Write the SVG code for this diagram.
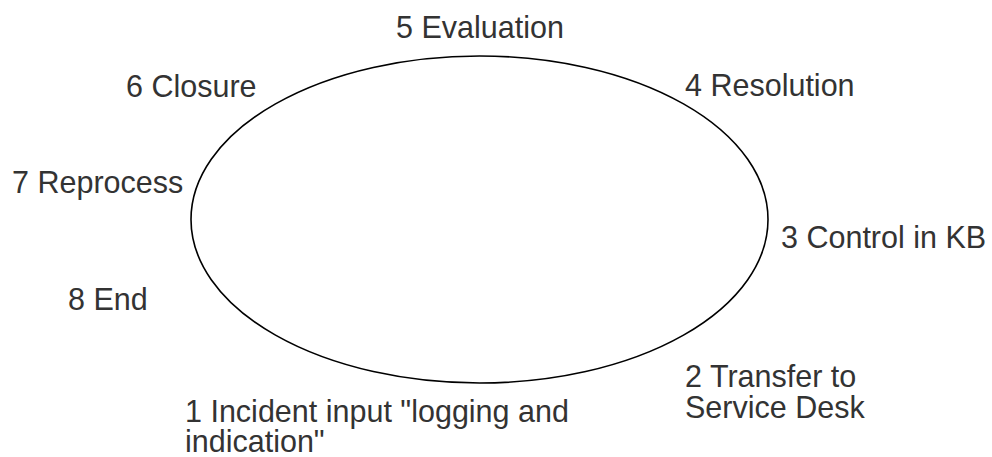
<svg xmlns="http://www.w3.org/2000/svg" width="992" height="457" viewBox="0 0 992 457">
  <style>
    .lbl { font-family: "Liberation Sans", Arial, sans-serif; font-size: 30.5px; fill: #333333; }
    .cycle { fill: none; stroke: #000000; stroke-width: 1.6; }
  </style>
  <rect width="992" height="457" fill="#ffffff"/>
  <g id="connectors">
    <ellipse class="cycle" cx="479.5" cy="219.5" rx="288.5" ry="163.5"/>
  </g>
  <g id="step1"><text class="lbl" x="185" y="422">1 Incident input "logging and<tspan x="185" y="452">indication"</tspan></text></g>
  <g id="step2"><text class="lbl" x="685" y="387">2 Transfer to<tspan x="685" y="418">Service Desk</tspan></text></g>
  <g id="step3"><text class="lbl" x="781" y="248">3 Control in KB</text></g>
  <g id="step4"><text class="lbl" x="685" y="96">4 Resolution</text></g>
  <g id="step5"><text class="lbl" x="396" y="38">5 Evaluation</text></g>
  <g id="step6"><text class="lbl" x="126" y="97">6 Closure</text></g>
  <g id="step7"><text class="lbl" x="12" y="193">7 Reprocess</text></g>
  <g id="step8"><text class="lbl" x="68" y="310">8 End</text></g>
</svg>
